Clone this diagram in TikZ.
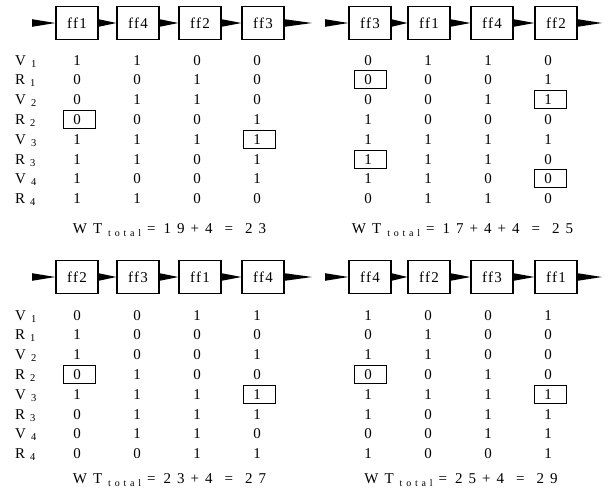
\documentclass[tikz,border=0pt]{standalone}
\usepackage{fontspec}
\setmainfont{Liberation Serif}
\newfontfamily\boxfont[LetterSpace=8]{Liberation Serif}
\newcommand{\gap}{\hspace{6pt}}
\newcommand{\wtot}{W\hspace{6pt}T\hspace{6pt}\raisebox{-3pt}{\fontsize{10}{10}\selectfont t\hspace{3.8pt}o\hspace{3.8pt}t\hspace{3.8pt}a\hspace{3.8pt}l}\hspace{6pt}=\hspace{8pt}}
\newcommand{\weq}{\hspace{12pt}=\hspace{12pt}}
\usetikzlibrary{positioning}

\begin{document}
\begin{tikzpicture}[x=1pt,y=-1pt,
    ff/.style={draw,line width=1.2pt,minimum width=42pt,minimum height=33pt,inner sep=0pt,font=\boxfont\fontsize{15}{15}\selectfont},
    bit/.style={anchor=base,inner sep=0pt,font=\fontsize{15}{15}\selectfont},
    hit/.style={draw,line width=0.9pt,minimum width=32pt,minimum height=18pt,inner sep=0pt,xshift=2pt},
    lbl/.style={anchor=base west,inner sep=0pt,font=\fontsize{15}{15}\selectfont},
    wt/.style={anchor=base,inner sep=0pt,font=\fontsize{15}{15}\selectfont},
    wedge/.style={fill=black}]
  \useasboundingbox (0,0) rectangle (611,493);

  % top left: ff1 ff4 ff2 ff3
  \coordinate (a-in) at (32,23);
  \node[ff](a1) at (77,23){ff1};
  \node[ff](a2) at (138,23){ff4};
  \node[ff](a3) at (200,23){ff2};
  \node[ff](a4) at (263,23){ff3};
  \coordinate (a-out) at (312,23);
  \fill[wedge] ([yshift=3.8pt]a-in) -- (a1.west) -- ([yshift=-3.8pt]a-in) -- cycle;
  \foreach \p/\q in {a1/a2,a2/a3,a3/a4}
    \fill[wedge] ([yshift=3.8pt]\p.east) -- (\q.west) -- ([yshift=-3.8pt]\p.east) -- cycle;
  \fill[wedge] ([yshift=3.8pt]a4.east) -- (a-out) -- ([yshift=-3.8pt]a4.east) -- cycle;
  \foreach \t/\n [count=\i] in {V/1,R/1,V/2,R/2,V/3,R/3,V/4,R/4}
    \node[lbl](la-\i) at (15,45.2+19.8*\i){\t\hspace{5pt}\textsubscript{\n}};
  \foreach \ca/\cb/\cc/\cd [count=\i] in {1/1/0/0,0/0/1/0,0/1/1/0,0/0/0/1,1/1/1/1,1/1/0/1,1/0/0/1,1/1/0/0}{
    \node[bit](a-\i-1) at (77,45.2+19.8*\i){\ca};
    \node[bit](a-\i-2) at (137,45.2+19.8*\i){\cb};
    \node[bit](a-\i-3) at (197,45.2+19.8*\i){\cc};
    \node[bit](a-\i-4) at (257,45.2+19.8*\i){\cd};
  }
  \node[hit] at (a-4-1){};
  \node[hit] at (a-5-4){};
  \node[wt](a-wt) at (169.5,233){\wtot 1\gap9\gap+\gap4\weq2\gap3};

  % top right: ff3 ff1 ff4 ff2
  \coordinate (b-in) at (325,23);
  \node[ff](b1) at (370,23){ff3};
  \node[ff](b2) at (429,23){ff1};
  \node[ff](b3) at (492,23){ff4};
  \node[ff](b4) at (556,23){ff2};
  \coordinate (b-out) at (602,23);
  \fill[wedge] ([yshift=3.8pt]b-in) -- (b1.west) -- ([yshift=-3.8pt]b-in) -- cycle;
  \foreach \p/\q in {b1/b2,b2/b3,b3/b4}
    \fill[wedge] ([yshift=3.8pt]\p.east) -- (\q.west) -- ([yshift=-3.8pt]\p.east) -- cycle;
  \fill[wedge] ([yshift=3.8pt]b4.east) -- (b-out) -- ([yshift=-3.8pt]b4.east) -- cycle;
  \foreach \ca/\cb/\cc/\cd [count=\i] in {0/1/1/0,0/0/0/1,0/0/1/1,1/0/0/0,1/1/1/1,1/1/1/0,1/1/0/0,0/1/1/0}{
    \node[bit](b-\i-1) at (368,45.2+19.8*\i){\ca};
    \node[bit](b-\i-2) at (428,45.2+19.8*\i){\cb};
    \node[bit](b-\i-3) at (488,45.2+19.8*\i){\cc};
    \node[bit](b-\i-4) at (548,45.2+19.8*\i){\cd};
  }
  \node[hit] at (b-2-1){};
  \node[hit] at (b-6-1){};
  \node[hit] at (b-3-4){};
  \node[hit] at (b-7-4){};
  \node[wt](b-wt) at (462.5,233){\wtot 1\gap7\gap+\gap4\gap+\gap4\weq2\gap5};

  % bottom left: ff2 ff3 ff1 ff4
  \coordinate (c-in) at (32,277);
  \node[ff](c1) at (77,277){ff2};
  \node[ff](c2) at (138,277){ff3};
  \node[ff](c3) at (200,277){ff1};
  \node[ff](c4) at (263,277){ff4};
  \coordinate (c-out) at (312,277);
  \fill[wedge] ([yshift=3.8pt]c-in) -- (c1.west) -- ([yshift=-3.8pt]c-in) -- cycle;
  \foreach \p/\q in {c1/c2,c2/c3,c3/c4}
    \fill[wedge] ([yshift=3.8pt]\p.east) -- (\q.west) -- ([yshift=-3.8pt]\p.east) -- cycle;
  \fill[wedge] ([yshift=3.8pt]c4.east) -- (c-out) -- ([yshift=-3.8pt]c4.east) -- cycle;
  \foreach \t/\n [count=\i] in {V/1,R/1,V/2,R/2,V/3,R/3,V/4,R/4}
    \node[lbl](lc-\i) at (15,300.2+19.8*\i){\t\hspace{5pt}\textsubscript{\n}};
  \foreach \ca/\cb/\cc/\cd [count=\i] in {0/0/1/1,1/0/0/0,1/0/0/1,0/1/0/0,1/1/1/1,0/1/1/1,0/1/1/0,0/0/1/1}{
    \node[bit](c-\i-1) at (77,300.2+19.8*\i){\ca};
    \node[bit](c-\i-2) at (137,300.2+19.8*\i){\cb};
    \node[bit](c-\i-3) at (197,300.2+19.8*\i){\cc};
    \node[bit](c-\i-4) at (257,300.2+19.8*\i){\cd};
  }
  \node[hit] at (c-4-1){};
  \node[hit] at (c-5-4){};
  \node[wt](c-wt) at (169.5,483){\wtot 2\gap3\gap+\gap4\weq2\gap7};

  % bottom right: ff4 ff2 ff3 ff1
  \coordinate (d-in) at (325,277);
  \node[ff](d1) at (370,277){ff4};
  \node[ff](d2) at (429,277){ff2};
  \node[ff](d3) at (492,277){ff3};
  \node[ff](d4) at (556,277){ff1};
  \coordinate (d-out) at (602,277);
  \fill[wedge] ([yshift=3.8pt]d-in) -- (d1.west) -- ([yshift=-3.8pt]d-in) -- cycle;
  \foreach \p/\q in {d1/d2,d2/d3,d3/d4}
    \fill[wedge] ([yshift=3.8pt]\p.east) -- (\q.west) -- ([yshift=-3.8pt]\p.east) -- cycle;
  \fill[wedge] ([yshift=3.8pt]d4.east) -- (d-out) -- ([yshift=-3.8pt]d4.east) -- cycle;
  \foreach \ca/\cb/\cc/\cd [count=\i] in {1/0/0/1,0/1/0/0,1/1/0/0,0/0/1/0,1/1/1/1,1/0/1/1,0/0/1/1,1/0/0/1}{
    \node[bit](d-\i-1) at (368,300.2+19.8*\i){\ca};
    \node[bit](d-\i-2) at (428,300.2+19.8*\i){\cb};
    \node[bit](d-\i-3) at (488,300.2+19.8*\i){\cc};
    \node[bit](d-\i-4) at (548,300.2+19.8*\i){\cd};
  }
  \node[hit] at (d-4-1){};
  \node[hit] at (d-5-4){};
  \node[wt](d-wt) at (461,483){\wtot 2\gap5\gap+\gap4\weq2\gap9};
\end{tikzpicture}
\end{document}
